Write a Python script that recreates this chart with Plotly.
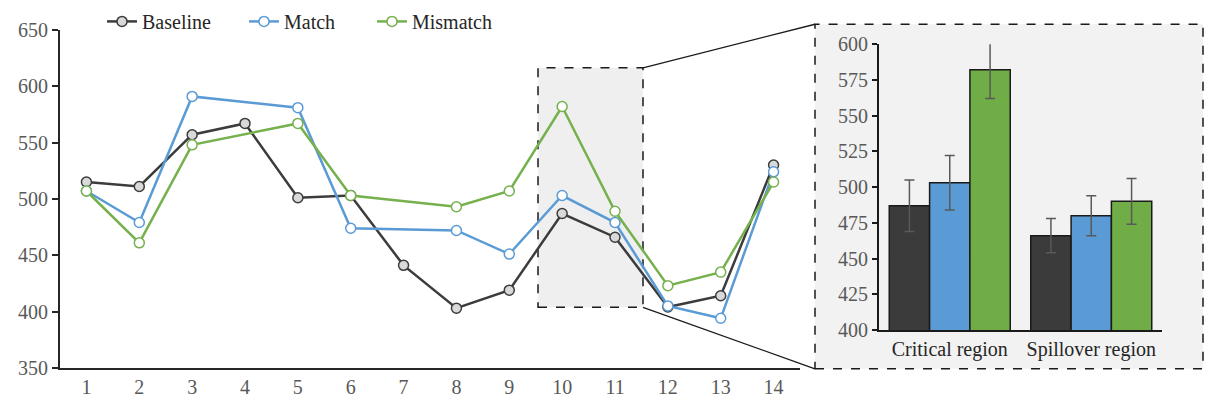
import plotly.graph_objects as go

# Reading times per region (ms)
regions_idx = list(range(1, 15))
baseline = [515, 511, 557, 567, 501, 503, 441, 403, 419, 487, 466, 404, 414, 530]
match = [507, 479, 591, None, 581, 474, None, 472, 451, 503, 479, 405, 394, 524]
mismatch = [507, 461, 548, None, 567, 503, None, 493, 507, 582, 489, 423, 435, 515]

# Zoomed-in comparison for the critical and spillover regions
bar_regions = ["Critical region", "Spillover region"]
bar_baseline = [487, 466]
bar_baseline_err = [18, 12]
bar_match = [503, 480]
bar_match_err = [19, 14]
bar_mismatch = [582, 490]
bar_mismatch_err = [20, 16]

W, H = 1205, 412
FONT = '"Liberation Serif", "Times New Roman", serif'
C_BASE = "#3c3c3c"
C_MATCH = "#5b9bd5"
C_MIS = "#76b14e"
TICK_GREY = "#595959"


def px_x(p):
    return p / W


def px_y(p):
    return 1 - p / H


fig = go.Figure()

# one legend box per series so each entry sits where it should
line_specs = [
    ("Baseline", baseline, C_BASE, "#d9d9d9", "legend", 102),
    ("Match", match, C_MATCH, "white", "legend2", 244),
    ("Mismatch", mismatch, C_MIS, "white", "legend3", 372),
]
legend_boxes = {}
for name, vals, col, fill, leg, lx in line_specs:
    fig.add_trace(go.Scatter(
        x=regions_idx, y=vals, name=name, mode="lines+markers",
        connectgaps=True,
        line=dict(color=col, width=2.5),
        marker=dict(size=10, color=fill, line=dict(color=col, width=1.5)),
        xaxis="x", yaxis="y", legend=leg,
    ))
    legend_boxes[leg] = dict(
        orientation="h", x=px_x(lx), y=px_y(11), xanchor="left", yanchor="middle",
        font=dict(family=FONT, size=20, color="#262626"),
        bgcolor="rgba(0,0,0,0)", itemclick=False,
    )

bar_specs = [
    (bar_baseline, bar_baseline_err, "#3b3b3b"),
    (bar_match, bar_match_err, C_MATCH),
    (bar_mismatch, bar_mismatch_err, "#70ad47"),
]
for vals, errs, col in bar_specs:
    fig.add_trace(go.Bar(
        x=bar_regions, y=vals, marker=dict(color=col, line=dict(color="#1a1a1a", width=1.5)),
        error_y=dict(type="data", array=errs, color="#595959", thickness=1.5, width=5),
        showlegend=False, xaxis="x2", yaxis="y2",
    ))

# Highlight boxes and connectors
fig.add_shape(type="rect", xref="paper", yref="paper",
              x0=px_x(815), x1=px_x(1203), y0=px_y(378), y1=px_y(14),
              fillcolor="#f2f2f2", line=dict(color="#1a1a1a", width=1.5, dash="dash"),
              layer="below")
fig.add_shape(type="rect", xref="paper", yref="paper",
              x0=px_x(538), x1=px_x(643), y0=px_y(313), y1=px_y(60),
              fillcolor="#efefef", line=dict(color="#1a1a1a", width=1.5, dash="dash"),
              layer="below")
fig.add_shape(type="line", xref="paper", yref="paper",
              x0=px_x(643), y0=px_y(60), x1=px_x(815), y1=px_y(14),
              line=dict(color="#1a1a1a", width=1.3))
fig.add_shape(type="line", xref="paper", yref="paper",
              x0=px_x(643), y0=px_y(313), x1=px_x(815), y1=px_y(378),
              line=dict(color="#1a1a1a", width=1.3))

fig.update_layout(
    width=W, height=H,
    margin=dict(l=0, r=0, t=0, b=0),
    paper_bgcolor="white",
    plot_bgcolor="rgba(0,0,0,0)",
    font=dict(family=FONT, size=20, color="#262626"),
    barmode="group", bargap=0.145, bargroupgap=0,
    showlegend=True,
    legend=legend_boxes["legend"],
    legend2=legend_boxes["legend2"],
    legend3=legend_boxes["legend3"],
    xaxis=dict(domain=[px_x(60), px_x(800)], range=[0.5, 14.5],
               tickvals=regions_idx, ticktext=[str(i) for i in regions_idx],
               showline=True, linecolor="#262626", linewidth=2, ticks="",
               showgrid=False, zeroline=False,
               tickfont=dict(family=FONT, size=20, color=TICK_GREY), anchor="y"),
    yaxis=dict(domain=[px_y(377), px_y(20)], range=[350, 650], dtick=50,
               showline=True, linecolor="#262626", linewidth=2,
               ticks="outside", ticklen=6, tickcolor="#262626", tickwidth=1.5,
               showgrid=False, zeroline=False,
               tickfont=dict(family=FONT, size=20, color=TICK_GREY), anchor="x"),
    xaxis2=dict(domain=[px_x(879), px_x(1162)],
                showline=True, linecolor="#1a1a1a", linewidth=2, ticks="",
                showgrid=False, zeroline=False,
                tickfont=dict(family=FONT, size=20, color="#262626"), anchor="y2"),
    yaxis2=dict(domain=[px_y(337), px_y(35)], range=[400, 600], dtick=25,
                showline=True, linecolor="#1a1a1a", linewidth=2,
                ticks="outside", ticklen=5, tickcolor="#1a1a1a", tickwidth=1.5,
                showgrid=False, zeroline=False,
                tickfont=dict(family=FONT, size=20, color=TICK_GREY), anchor="x2"),
)

fig.write_html("out.html")
